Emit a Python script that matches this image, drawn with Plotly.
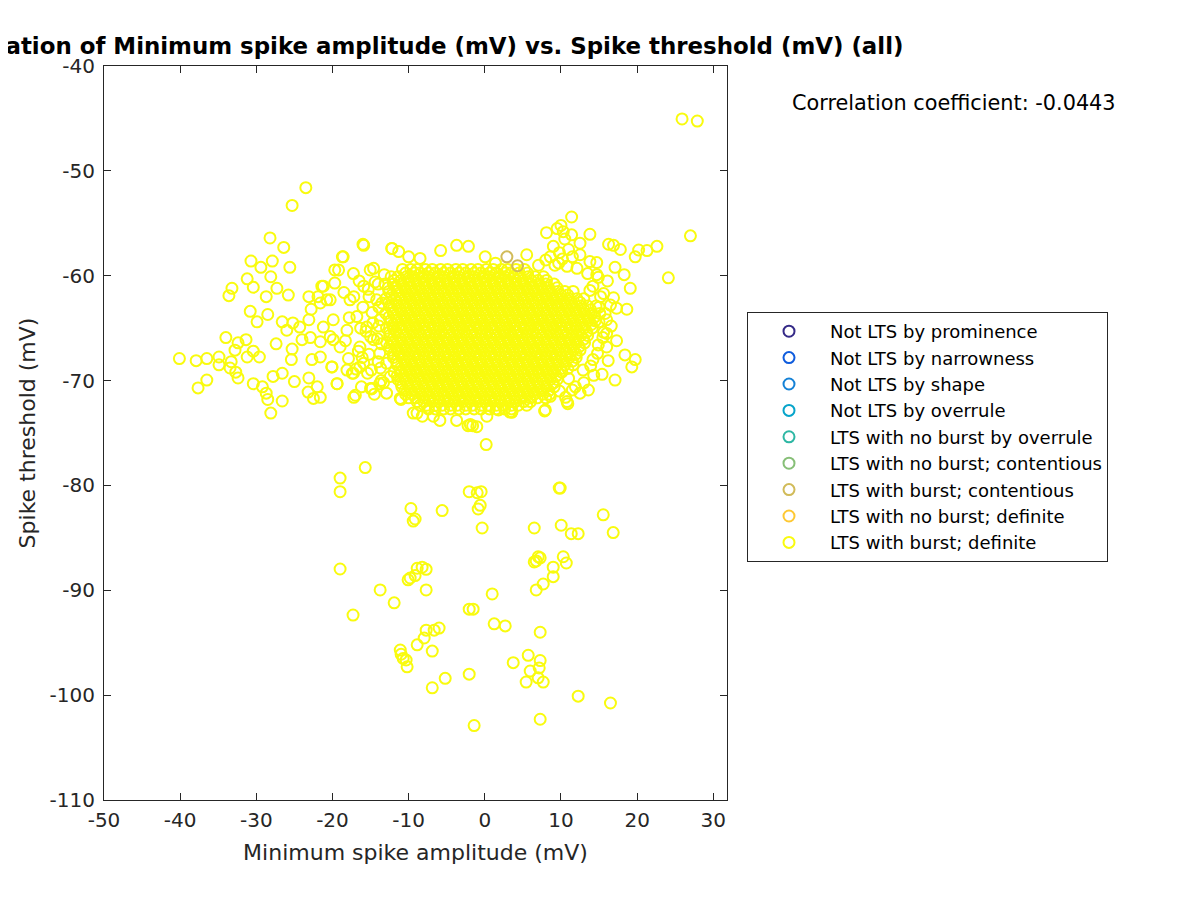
import plotly.graph_objects as go

# ---------------- data ----------------
categories = [
    "Not LTS by prominence",
    "Not LTS by narrowness",
    "Not LTS by shape",
    "Not LTS by overrule",
    "LTS with no burst by overrule",
    "LTS with no burst; contentious",
    "LTS with burst; contentious",
    "LTS with no burst; definite",
    "LTS with burst; definite",
]
colors = ["#352A87", "#0F5CDD", "#1481D6", "#06A4CA", "#2EB7A4",
          "#87BF77", "#D1BB59", "#FEC832", "#F9FB0E"]

# LTS with burst; contentious
contentious_x = [2.9, 4.3]
contentious_y = [-58.2, -59.05]

# LTS with burst; definite -- dense core, read row by row (threshold level, amplitudes)
core_levels = [-59.4, -60.1, -60.8, -61.5, -62.2, -62.9, -63.6, -64.3, -65.0, -65.7,
               -66.4, -67.1, -67.8, -68.5, -69.2, -69.9, -70.6, -71.3, -72.0, -72.7]
core_rows = [
    [-10.8, -9.7, -8.9, -7.8, -6.9, -5.8, -4.9, -3.8, -2.9, -1.8, -0.9, 0.2, 1.1, 2.2, 3.0, 4.1, 5.2],
    [-12.3, -11.4, -10.3, -9.4, -8.3, -7.4, -6.3, -5.4, -4.3, -3.4, -2.3, -1.4, -0.3, 0.6, 1.7, 2.6,
     3.7, 4.6, 5.7, 6.6, 7.7],
    [-13.1, -12.0, -10.9, -10.0, -8.9, -8.0, -6.9, -6.0, -4.9, -4.0, -2.9, -2.0, -0.9, 0.0, 1.1, 2.0,
     3.1, 4.0, 5.1, 6.0, 7.1, 8.0, 9.1],
    [-12.6, -11.5, -10.4, -9.5, -8.4, -7.5, -6.4, -5.5, -4.4, -3.5, -2.4, -1.5, -0.4, 0.5, 1.6, 2.5,
     3.6, 4.5, 5.6, 6.5, 7.6, 8.5, 9.6, 10.5, 11.6],
    [-13.0, -11.9, -11.0, -9.9, -9.0, -7.9, -7.0, -5.9, -5.0, -3.9, -3.0, -1.9, -1.0, 0.1, 1.0, 2.1,
     3.0, 4.1, 5.0, 6.1, 7.0, 8.1, 9.0, 10.1, 11.0, 12.1, 13.0],
    [-12.5, -11.4, -10.5, -9.4, -8.5, -7.4, -6.5, -5.4, -4.5, -3.4, -2.5, -1.4, -0.5, 0.6, 1.5, 2.6,
     3.5, 4.6, 5.5, 6.6, 7.5, 8.6, 9.5, 10.6, 11.5, 12.6, 13.5, 14.6],
    [-13.0, -12.0, -10.9, -10.0, -8.9, -8.0, -6.9, -6.0, -4.9, -4.0, -2.9, -2.0, -0.9, 0.0, 1.1, 2.0,
     3.1, 4.0, 5.1, 6.0, 7.1, 8.0, 9.1, 10.0, 11.1, 12.0, 13.1, 14.0, 15.1],
    [-12.4, -11.5, -10.4, -9.5, -8.4, -7.5, -6.4, -5.5, -4.4, -3.5, -2.4, -1.5, -0.4, 0.5, 1.6, 2.5,
     3.6, 4.5, 5.6, 6.5, 7.6, 8.5, 9.6, 10.5, 11.6, 12.5, 13.6, 14.5],
    [-12.9, -12.0, -11.0, -9.9, -9.0, -8.0, -6.9, -6.0, -5.0, -3.9, -3.0, -2.0, -0.9, 0.0, 1.0, 2.1,
     3.0, 4.0, 5.1, 6.0, 7.0, 8.1, 9.0, 10.0, 11.1, 12.0, 13.0, 14.1],
    [-12.5, -11.4, -10.5, -9.4, -8.5, -7.4, -6.5, -5.4, -4.5, -3.4, -2.5, -1.4, -0.5, 0.6, 1.5, 2.6,
     3.5, 4.6, 5.5, 6.6, 7.5, 8.6, 9.5, 10.6, 11.5, 12.6, 13.5],
    [-12.9, -12.0, -10.9, -10.0, -8.9, -8.0, -6.9, -6.0, -4.9, -4.0, -2.9, -2.0, -0.9, 0.0, 1.1, 2.0,
     3.1, 4.0, 5.1, 6.0, 7.1, 8.0, 9.1, 10.0, 11.1, 12.0, 13.1],
    [-12.4, -11.5, -10.4, -9.5, -8.4, -7.5, -6.4, -5.5, -4.4, -3.5, -2.4, -1.5, -0.4, 0.5, 1.6, 2.5,
     3.6, 4.5, 5.6, 6.5, 7.6, 8.5, 9.6, 10.5, 11.6, 12.5],
    [-12.0, -10.9, -10.0, -8.9, -8.0, -6.9, -6.0, -4.9, -4.0, -2.9, -2.0, -0.9, 0.0, 1.1, 2.0, 3.1,
     4.0, 5.1, 6.0, 7.1, 8.0, 9.1, 10.0, 11.1, 12.0],
    [-11.5, -10.4, -9.5, -8.4, -7.5, -6.4, -5.5, -4.4, -3.5, -2.4, -1.5, -0.4, 0.5, 1.6, 2.5, 3.6,
     4.5, 5.6, 6.5, 7.6, 8.5, 9.6, 10.5, 11.6],
    [-11.9, -11.0, -9.9, -9.0, -7.9, -7.0, -5.9, -5.0, -3.9, -3.0, -1.9, -1.0, 0.1, 1.0, 2.1, 3.0,
     4.1, 5.0, 6.1, 7.0, 8.1, 9.0, 10.1],
    [-11.4, -10.5, -9.4, -8.5, -7.4, -6.5, -5.4, -4.5, -3.4, -2.5, -1.4, -0.5, 0.6, 1.5, 2.6, 3.5,
     4.6, 5.5, 6.6, 7.5, 8.6, 9.5],
    [-10.9, -10.0, -8.9, -8.0, -6.9, -6.0, -4.9, -4.0, -2.9, -2.0, -0.9, 0.0, 1.1, 2.0, 3.1, 4.0,
     5.1, 6.0, 7.1, 8.0, 9.1],
    [-10.4, -9.5, -8.4, -7.5, -6.4, -5.5, -4.4, -3.5, -2.4, -1.5, -0.4, 0.5, 1.6, 2.5, 3.6, 4.5,
     5.6, 6.5, 7.6, 8.5],
    [-8.9, -8.0, -6.9, -6.0, -4.9, -4.0, -2.9, -2.0, -0.9, 0.0, 1.1, 2.0, 3.1, 4.0, 5.1, 6.0],
    [-7.4, -6.5, -5.4, -4.5, -3.4, -2.5, -1.4, -0.5, 0.6, 1.5, 2.6, 3.5],
]

# second layer of the dense core (levels in between the rows above)
core2_levels = [-59.75, -60.45, -61.15, -61.85, -62.55, -63.25, -63.95, -64.65, -65.35, -66.05,
                -66.75, -67.45, -68.15, -68.85, -69.55, -70.25, -70.95, -71.65, -72.35]
core2_rows = [
    [-10.4, -9.3, -8.5, -7.4, -6.5, -5.4, -4.5, -3.4, -2.5, -1.4, -0.5, 0.6, 1.5, 2.6, 3.4, 4.5, 5.6],
    [-11.9, -11.0, -9.9, -9.0, -7.9, -7.0, -5.9, -5.0, -3.9, -3.0, -1.9, -1.0, 0.1, 1.0, 2.1, 3.0,
     4.1, 5.0, 6.1, 7.0, 8.1],
    [-12.7, -11.6, -10.5, -9.6, -8.5, -7.6, -6.5, -5.6, -4.5, -3.6, -2.5, -1.6, -0.5, 0.4, 1.5, 2.4,
     3.5, 4.4, 5.5, 6.4, 7.5, 8.4, 9.5],
    [-12.2, -11.1, -10.0, -9.1, -8.0, -7.1, -6.0, -5.1, -4.0, -3.1, -2.0, -1.1, 0.0, 0.9, 2.0, 2.9,
     4.0, 4.9, 6.0, 6.9, 8.0, 8.9, 10.0, 10.9],
    [-12.6, -11.5, -10.6, -9.5, -8.6, -7.5, -6.6, -5.5, -4.6, -3.5, -2.6, -1.5, -0.6, 0.5, 1.4, 2.5,
     3.4, 4.5, 5.4, 6.5, 7.4, 8.5, 9.4, 10.5, 11.4, 12.5],
    [-12.1, -11.0, -10.1, -9.0, -8.1, -7.0, -6.1, -5.0, -4.1, -3.0, -2.1, -1.0, -0.1, 1.0, 1.9, 3.0,
     3.9, 5.0, 5.9, 7.0, 7.9, 9.0, 9.9, 11.0, 11.9, 13.0, 13.9],
    [-12.6, -11.6, -10.5, -9.6, -8.5, -7.6, -6.5, -5.6, -4.5, -3.6, -2.5, -1.6, -0.5, 0.4, 1.5, 2.4,
     3.5, 4.4, 5.5, 6.4, 7.5, 8.4, 9.5, 10.4, 11.5, 12.4, 13.5, 14.4],
    [-12.0, -11.1, -10.0, -9.1, -8.0, -7.1, -6.0, -5.1, -4.0, -3.1, -2.0, -1.1, 0.0, 0.9, 2.0, 2.9,
     4.0, 4.9, 6.0, 6.9, 8.0, 8.9, 10.0, 10.9, 12.0, 12.9, 14.0],
    [-12.5, -11.6, -10.6, -9.5, -8.6, -7.6, -6.5, -5.6, -4.6, -3.5, -2.6, -1.6, -0.5, 0.4, 1.4, 2.5,
     3.4, 4.4, 5.5, 6.4, 7.4, 8.5, 9.4, 10.4, 11.5, 12.4, 13.4],
    [-12.1, -11.0, -10.1, -9.0, -8.1, -7.0, -6.1, -5.0, -4.1, -3.0, -2.1, -1.0, -0.1, 1.0, 1.9, 3.0,
     3.9, 5.0, 5.9, 7.0, 7.9, 9.0, 9.9, 11.0, 11.9, 13.0],
    [-12.5, -11.6, -10.5, -9.6, -8.5, -7.6, -6.5, -5.6, -4.5, -3.6, -2.5, -1.6, -0.5, 0.4, 1.5, 2.4,
     3.5, 4.4, 5.5, 6.4, 7.5, 8.4, 9.5, 10.4, 11.5, 12.4],
    [-12.0, -11.1, -10.0, -9.1, -8.0, -7.1, -6.0, -5.1, -4.0, -3.1, -2.0, -1.1, 0.0, 0.9, 2.0, 2.9,
     4.0, 4.9, 6.0, 6.9, 8.0, 8.9, 10.0, 10.9, 12.0],
    [-11.6, -10.5, -9.6, -8.5, -7.6, -6.5, -5.6, -4.5, -3.6, -2.5, -1.6, -0.5, 0.4, 1.5, 2.4, 3.5,
     4.4, 5.5, 6.4, 7.5, 8.4, 9.5, 10.4, 11.5],
    [-11.1, -10.0, -9.1, -8.0, -7.1, -6.0, -5.1, -4.0, -3.1, -2.0, -1.1, 0.0, 0.9, 2.0, 2.9, 4.0,
     4.9, 6.0, 6.9, 8.0, 8.9, 10.0, 10.9],
    [-11.5, -10.6, -9.5, -8.6, -7.5, -6.6, -5.5, -4.6, -3.5, -2.6, -1.5, -0.6, 0.5, 1.4, 2.5, 3.4,
     4.5, 5.4, 6.5, 7.4, 8.5, 9.4],
    [-11.0, -10.1, -9.0, -8.1, -7.0, -6.1, -5.0, -4.1, -3.0, -2.1, -1.0, -0.1, 1.0, 1.9, 3.0, 3.9,
     5.0, 5.9, 7.0, 7.9, 9.0],
    [-10.5, -9.6, -8.5, -7.6, -6.5, -5.6, -4.5, -3.6, -2.5, -1.6, -0.5, 0.4, 1.5, 2.4, 3.5, 4.4,
     5.5, 6.4, 7.5, 8.4],
    [-10.0, -9.1, -8.0, -7.1, -6.0, -5.1, -4.0, -3.1, -2.0, -1.1, 0.0, 0.9, 2.0, 2.9, 4.0, 4.9,
     6.0, 6.9, 8.0],
    [-8.5, -7.6, -6.5, -5.6, -4.5, -3.6, -2.5, -1.6, -0.5, 0.4, 1.5, 2.4, 3.5, 4.4, 5.5],
]

# LTS with burst; definite -- scattered points around the core
sparse_x = [
    25.9, 27.9, 27.0, 24.1, -23.5, -25.3,
    -28.2, -26.4, -30.7, -27.9, -29.4, -25.6, -28.1, -33.2, -33.6, -31.2, -30.4, -27.3, -25.8, -28.7,
    -30.8, -29.9, -28.5, -34.0, -31.35, -32.4, -40.1, -37.9, -36.5, -34.9, -32.8, -30.4, -31.2, -29.6,
    -34.9, -33.3, -33.45, -32.7, -32.4, -36.5, -37.65, -27.4, -30.4, -29.2, -28.7, -28.5, -28.1, -26.6,
    -27.8, -26.6, -25.0, -23.1, -22.0, -23.2, -22.5, -21.6, -26.6, -26.0, -25.2, -24.3, -25.3, -25.4,
    -23.1, -22.8, -23.1, -21.4, -21.9, -20.3, -21.2, -19.9, -20.05, -19.4, -17.2, -14.9, -11.0, -18.7,
    -16.0, -12.2, -19.7, -21.6, -22.9, -24.0, -22.7, -21.6, -21.6, -18.1, -17.4, -16.4, -13.7, -13.3,
    -9.4,
    8.1, 10.0, 10.3, 11.4, 13.8, 12.5, 9.0, 8.6, 5.5, 7.05, 9.7, 10.8, 12.1, 13.8, 14.7, 16.25, 16.9,
    17.8, 19.75, 20.2, 21.3, 22.6, 17.1, 18.3, 19.1, 14.7, 14.9, 13.8, 15.2, 16.9, 18.65, 17.3, 16.0,
    16.0, 16.0, 18.4, 19.75, 19.3, 17.1, 14.3, 13.6, 12.5, 10.8, 7.95, 3.55, 8.6, 11.9, 11.4,
    9.5, 10.5, 9.8, 11.0, 10.2, 11.5, 9.2, 8.0, 12.5,
    -15.9, -18.6, -12.2, -11.3, -10.0, -8.5, -5.8, -3.7, -2.15, 0.05, 1.4, -19.2, -19.7, -21.2,
    -17.25, -15.05, -20.75, -19.9, -20.3, -18.1, -19.0, -20.1, -19.4, -17.25, -17.0, -14.8, -12.9,
    -12.4, -11.1, -15.9, -16.4, -15.5, -16.8, -17.7, -15.9, -14.2, -13.7, -14.6, -8.9, -6.75, -1.9,
    -1.6, -2.2, -3.7, -5.9, -8.2, 0.27, 1.8, 3.55, 7.85, 10.9, -15.0, -1.05, 3.3,
    -14.4, -15.2, -13.9, -14.7, -15.6, -14.1, -13.8, -16.1, -14.9, -13.6,
    15.8, 16.6, 15.5, 17.3, 14.8, 16.2, 13.9, 15.0,
    -16.5, -15.3, -14.0, -13.5, -16.0, -14.8, -13.9, -16.3, -15.0, -13.6, -16.6, -15.2, -14.0,
    -16.9, -15.4, -13.8, -12.9, -16.2, -14.5, -17.8, -18.3, -17.9, -18.5, -17.2, -13.2, -14.6,
    13.5, 14.2, 15.6, 16.1, 15.4, 13.0, 11.5, 16.5, 15.0, 15.6, 14.9, 14.2, 12.9, 11.0, 9.8, 10.6,
    0.18,
]
sparse_y = [
    -45.05, -45.25, -56.2, -60.2, -51.6, -53.3,
    -56.4, -57.3, -58.6, -58.6, -59.2, -59.2, -60.1, -61.2, -61.9, -60.3, -61.1, -61.2, -61.85, -62.0,
    -63.4, -64.4, -63.7, -65.9, -66.1, -66.4, -67.9, -68.1, -67.9, -67.75, -67.1, -67.2, -67.75, -67.75,
    -68.5, -68.2, -68.8, -69.2, -69.75, -69.95, -70.7, -66.5, -70.3, -70.6, -71.2, -71.8, -73.1, -71.95,
    -69.6, -69.3, -70.1, -69.75, -70.6, -71.1, -71.7, -71.6, -64.4, -65.2, -64.5, -64.9, -67.0, -68.0,
    -62.0, -63.2, -64.2, -61.0, -62.0, -62.3, -64.9, -66.1, -68.7, -70.3, -71.6, -70.8, -71.8, -58.2,
    -57.0, -57.4, -59.45, -62.6, -65.9, -66.1, -68.0, -67.75, -66.3, -69.0, -69.3, -68.7, -68.8, -70.2,
    -73.1,
    -55.9, -55.2, -55.8, -54.4, -56.05, -56.9, -57.2, -58.2, -58.0, -59.0, -58.8, -59.1, -59.3, -58.65,
    -58.75, -57.0, -57.1, -57.5, -58.2, -57.55, -57.6, -57.2, -59.2, -59.9, -61.2, -59.9, -60.15, -61.4,
    -62.0, -62.1, -63.2, -63.1, -64.2, -65.5, -66.8, -67.55, -68.0, -68.7, -69.95, -69.5, -70.9, -71.2,
    -72.0, -72.8, -73.0, -71.5, -70.6, -56.1,
    -55.5, -56.5, -57.8, -57.5, -58.4, -58.2, -59.0, -58.5, -58.0,
    -57.1, -58.2, -57.4, -57.7, -58.2, -58.35, -57.6, -57.1, -57.2, -58.2, -58.8, -59.45, -60.7, -61.0,
    -59.8, -59.45, -62.3, -64.2, -65.8, -65.2, -66.8, -68.7, -70.3, -69.3, -71.4, -70.75, -68.35,
    -69.6, -71.7, -68.35, -66.8, -64.9, -63.9, -62.3, -61.0, -62.3, -64.2, -66.1, -73.1, -73.4, -74.2,
    -74.3, -74.3, -73.8, -73.8, -73.4, -73.4, -72.8, -73.0, -72.9, -72.2, -70.75, -74.4, -73.0,
    -60.6, -62.0, -63.0, -64.5, -65.3, -66.0, -67.4, -67.8, -69.0, -70.0,
    -63.6, -64.8, -65.9, -66.2, -67.4, -68.1, -68.6, -63.0,
    -60.5, -61.3, -60.8, -62.6, -63.0, -63.5, -64.8, -65.0, -65.8, -66.5, -67.2, -67.5, -68.2,
    -68.9, -69.3, -70.3, -71.2, -70.6, -71.3, -64.0, -66.2, -67.9, -61.6, -62.0, -59.9, -59.3,
    -59.8, -61.0, -61.7, -60.5, -69.4, -70.2, -70.9, -62.8, -64.4, -65.4, -66.6, -68.0, -69.0,
    -69.8, -71.0, -71.6,
    -76.1,
]

# LTS with burst; definite -- lower group
low_x = [
    -15.7, -19.0, -19.0, -9.7, -5.6, -9.4, -9.15, -2.05, -1.0, -0.48, -0.6, -0.87, -0.35, 9.9, 9.77,
    15.55, 6.49, 10.03, 11.35, 12.26, 16.86, -19.0, -13.74, -11.9, -17.3, -8.23, -8.88, -7.7, -9.8,
    -10.07, -9.15, -7.7, 6.75, 7.01, 7.27, 6.49, 10.3, 10.7, 8.98, 8.98, 7.67, 6.75, 0.97, -2.05,
    -1.53, 1.23, 2.68, 7.27, -7.7, -6.65, -6.0, -7.96, -8.88, -6.9, -11.1, -10.99, -10.72, -10.33,
    -10.2, -5.2, -6.9, -2.05, -1.4, 3.73, 5.7, 7.27, 5.96, 7.14, 7.0, 7.67, 5.43, 7.27, 12.26, 16.5,
]
low_y = [
    -78.3, -79.3, -80.6, -82.2, -82.4, -83.4, -83.2, -80.6, -80.7, -80.6, -81.9, -82.25, -84.06,
    -80.25, -80.25, -82.8, -84.06, -83.8, -84.6, -84.6, -84.5, -87.97, -89.97, -91.2, -92.36, -87.8,
    -87.9, -88.0, -88.83, -89.0, -88.6, -89.97, -87.2, -86.8, -86.9, -87.3, -86.8, -87.4, -87.8,
    -88.7, -89.4, -89.97, -90.35, -91.8, -91.8, -93.2, -93.4, -94.0, -93.8, -93.8, -93.6, -94.55,
    -95.2, -95.8, -95.7, -96.1, -96.5, -96.65, -97.3, -98.4, -99.3, -98.0, -102.9, -96.9, -96.2,
    -96.7, -97.7, -97.4, -98.35, -98.75, -98.75, -102.3, -100.1, -100.75,
]

x_ticks = [-50, -40, -30, -20, -10, 0, 10, 20, 30]
x_tick_labels = ["-50", "-40", "-30", "-20", "-10", "0", "10", "20", "30"]
y_ticks = [-110, -100, -90, -80, -70, -60, -50, -40]
y_tick_labels = ["-110", "-100", "-90", "-80", "-70", "-60", "-50", "-40"]
x_range = [-50, 31.8]
y_range = [-110, -40]
corr_text = "Correlation coefficient: -0.0443"
title_text = "Correlation of Minimum spike amplitude (mV) vs. Spike threshold (mV) (all)"

# ---------------- assemble ----------------
definite_x, definite_y = [], []
for levels, rows in ((core_levels, core_rows), (core2_levels, core2_rows)):
    for lvl, row in zip(levels, rows):
        for xv in row:
            definite_x.append(xv)
            definite_y.append(lvl)
definite_x += sparse_x + low_x
definite_y += sparse_y + low_y

series = {name: ([], []) for name in categories}
series["LTS with burst; contentious"] = (contentious_x, contentious_y)
series["LTS with burst; definite"] = (definite_x, definite_y)

FONT = "DejaVu Sans, Liberation Sans, sans-serif"
AX = "#262626"

# page body has an 8 px margin: the figure is laid out 8 px smaller and shifted
OFF = 8
W, H = 1200 - OFF, 900 - OFF
L, T, PW, PH = 104 - OFF, 66 - OFF, 623, 734
R, B = W - L - PW, H - T - PH


def px_x(px):
    return (px - OFF - L) / PW


def px_y(py):
    return (H - B - (py - OFF)) / PH


fig = go.Figure()
draw_order = [0, 1, 2, 3, 4, 5, 7, 8, 6]
for i in draw_order:
    name = categories[i]
    xs, ys = series[name]
    fig.add_trace(go.Scatter(
        x=xs if xs else [None], y=ys if ys else [None],
        mode="markers", name=name, legendrank=i + 1,
        marker=dict(symbol="circle-open", size=11, color=colors[i],
                    line=dict(width=2, color=colors[i])),
        hoverinfo="x+y+name",
    ))

fig.update_layout(
    width=W, height=H,
    paper_bgcolor="white", plot_bgcolor="white",
    margin=dict(l=L, r=R, t=T, b=B, autoexpand=False),
    font=dict(family=FONT, size=16, color=AX),
    showlegend=True,
    legend=dict(
        x=px_x(747), y=px_y(312), xanchor="left", yanchor="top",
        bordercolor="#262626", borderwidth=1, bgcolor="white",
        font=dict(family=FONT, size=18, color="#000000"),
        itemwidth=72, entrywidth=299, entrywidthmode="pixels",
    ),
    xaxis=dict(
        range=x_range, tickmode="array", tickvals=x_ticks, ticktext=x_tick_labels,
        ticks="inside", ticklen=7, tickcolor=AX, tickwidth=1,
        showline=True, linecolor=AX, linewidth=1, mirror="ticks",
        showgrid=False, zeroline=False,
        tickfont=dict(family=FONT, size=20, color=AX),
        ticklabelstandoff=2,
        title=dict(text="Minimum spike amplitude (mV)",
                   font=dict(family=FONT, size=22, color=AX), standoff=13),
    ),
    yaxis=dict(
        range=y_range, tickmode="array", tickvals=y_ticks, ticktext=y_tick_labels,
        ticks="inside", ticklen=7, tickcolor=AX, tickwidth=1,
        showline=True, linecolor=AX, linewidth=1, mirror="ticks",
        showgrid=False, zeroline=False,
        tickfont=dict(family=FONT, size=20, color=AX),
        ticklabelstandoff=4,
        title=dict(text="Spike threshold (mV)",
                   font=dict(family=FONT, size=22, color=AX), standoff=7),
    ),
    annotations=[
        dict(text="<b>" + title_text + "</b>", xref="paper", yref="paper",
             x=px_x(415), y=px_y(46), xanchor="center", yanchor="middle",
             showarrow=False, font=dict(family=FONT, size=22.9, color="#000000")),
        dict(text=corr_text, xref="paper", yref="paper",
             x=px_x(790), y=px_y(103), xanchor="left", yanchor="middle",
             showarrow=False, font=dict(family=FONT, size=20.8, color="#000000")),
    ],
)

fig.write_html("out.html")
